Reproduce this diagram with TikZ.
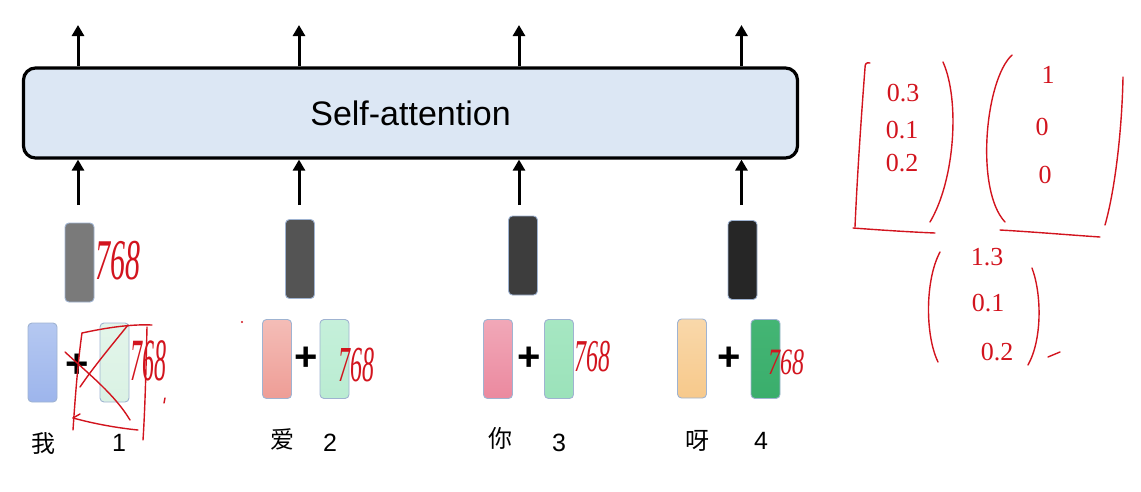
\documentclass[tikz,border=0pt]{standalone}
\usepackage{fontspec}
\setmainfont{Liberation Sans}
\newfontfamily\cjkfont{Noto Sans CJK SC}
\newfontfamily\handfont{Liberation Serif}
\usetikzlibrary{arrows.meta,positioning,calc}

\definecolor{attnfill}{HTML}{DCE7F4}
\definecolor{rim}{HTML}{9FB3D1}
\definecolor{inkred}{HTML}{D2141E}
% token / position colours (top, bottom)
\definecolor{wAt}{HTML}{B5C8F1}\definecolor{wAb}{HTML}{9DB5EC}
\definecolor{pAt}{HTML}{E3F5EA}\definecolor{pAb}{HTML}{DAF2E4}
\definecolor{wBt}{HTML}{F4BDB7}\definecolor{wBb}{HTML}{EE9D96}
\definecolor{pBt}{HTML}{C5F0DA}\definecolor{pBb}{HTML}{BAECD2}
\definecolor{wCt}{HTML}{F1A8B8}\definecolor{wCb}{HTML}{EB899F}
\definecolor{pCt}{HTML}{A6E7C2}\definecolor{pCb}{HTML}{9BE2BA}
\definecolor{wDt}{HTML}{F9D8AA}\definecolor{wDb}{HTML}{F7C98B}
\definecolor{pDt}{HTML}{44B574}\definecolor{pDb}{HTML}{3AAE6C}

% hand-written size note, stretched like the pen strokes
\newcommand{\pen}[3]{\scalebox{#1}[#2]{#3}}

\begin{document}
\begin{tikzpicture}[
  x=1pt, y=-1pt,
  attn/.style={draw, line width=3.2pt, rounded corners=12pt, fill=attnfill,
               minimum width=774pt, minimum height=90pt,
               font=\fontsize{34}{34}\selectfont},
  vec/.style={draw=rim, line width=0.9pt, rounded corners=4pt,
              minimum width=29pt, minimum height=79pt, inner sep=0pt},
  hid/.style={vec, fill=#1},
  tok/.style 2 args={vec, top color=#1, bottom color=#2},
  plus/.style={font=\fontsize{40}{40}\selectfont\bfseries, inner sep=0pt},
  word/.style={font=\cjkfont\fontsize{24}{24}\selectfont, inner sep=0pt},
  idx/.style={font=\fontsize{25}{25}\selectfont, inner sep=0pt},
  ink/.style={text=inkred, font=\handfont\itshape\fontsize{24}{24}\selectfont, inner sep=0pt},
  num/.style={text=inkred, font=\handfont\fontsize{26}{26}\selectfont, inner sep=0pt},
  stroke/.style={draw=inkred, line width=1.4pt, line cap=round, line join=round},
  flow/.style={-{Triangle[length=11pt,width=12pt]}, line width=3pt},
]
\useasboundingbox (0,0) rectangle (1141,491);

%% ---- self-attention block ------------------------------------------------
\node[attn] (attn) at (410.5,113) {Self-attention};

%% ---- hidden vectors (sum of the two below) --------------------------------
\node[hid=black!52] (g1) at (79.5,262.5) {};
\node[hid=black!67] (g2) at (300,259) {};
\node[hid=black!76] (g3) at (523,255.5) {};
\node[hid=black!85] (g4) at (742.5,260) {};

%% ---- token + position vectors ---------------------------------------------
\node[tok={wAt}{wAb}] (w1) at (42.5,362.5) {};
\node[tok={pAt}{pAb}] (p1) at (114.5,362.5) {};
\node[plus] (s1) at (77,366) {+};

\node[tok={wBt}{wBb}] (w2) at (277,359) {};
\node[tok={pBt}{pBb}] (p2) at (334.5,359) {};
\node[plus] (s2) at (306.5,359) {+};

\node[tok={wCt}{wCb}] (w3) at (498,359) {};
\node[tok={pCt}{pCb}] (p3) at (559,359) {};
\node[plus] (s3) at (529,359) {+};

\node[tok={wDt}{wDb}] (w4) at (692,358.5) {};
\node[tok={pDt}{pDb}] (p4) at (765.5,359) {};
\node[plus] (s4) at (729,359) {+};

%% ---- words and positions --------------------------------------------------
\node[word] (c1) at (43,444) {我};
\node[idx]  (n1) at (119,443) {1};
\node[word] (c2) at (282,439) {爱};
\node[idx]  (n2) at (330,443) {2};
\node[word] (c3) at (500,438) {你};
\node[idx]  (n3) at (559,443) {3};
\node[word] (c4) at (697,441) {呀};
\node[idx]  (n4) at (761,441) {4};

%% ---- arrows into and out of the block -------------------------------------
\coordinate (in1) at (78,205);
\coordinate (in2) at (299,205);
\coordinate (in3) at (519,205);
\coordinate (in4) at (741.5,205);
\coordinate (out1) at (78,25);
\coordinate (out2) at (299,25);
\coordinate (out3) at (519,25);
\coordinate (out4) at (741.5,25);

\draw[flow] (in1) -- (in1 |- attn.south);
\draw[flow] (in2) -- (in2 |- attn.south);
\draw[flow] (in3) -- (in3 |- attn.south);
\draw[flow] (in4) -- (in4 |- attn.south);
\draw[flow] (out1 |- attn.north) -- (out1);
\draw[flow] (out2 |- attn.north) -- (out2);
\draw[flow] (out3 |- attn.north) -- (out3);
\draw[flow] (out4 |- attn.north) -- (out4);

%% ---- hand notes: dimension ------------------------------------------------
\node[ink] (d0) at (118,261) {\pen{1.25}{2.4}{768}};
\node[ink] (d1) at (148,361) {\pen{1.0}{2.5}{768}};
\node[ink] (d2) at (356,365) {\pen{1.0}{2.1}{768}};
\node[ink] (d3) at (592,357) {\pen{1.0}{1.9}{768}};
\node[ink] (d4) at (786,362) {\pen{1.0}{1.55}{768}};

%% scribble over the first position vector
\draw[stroke] (82,333) .. controls (78,360) and (75,400) .. (73,430);
\draw[stroke] (82,333) .. controls (105,328) and (130,324) .. (152,325);
\draw[stroke] (147,327) .. controls (146,370) and (145,410) .. (143,440);
\draw[stroke] (65,352) .. controls (90,375) and (115,395) .. (130,420);
\draw[stroke] (80,387) .. controls (95,365) and (112,345) .. (128,325);
\draw[stroke] (73,418) .. controls (95,424) and (118,428) .. (138,430);
\draw[stroke] (73,418) -- (80,414);
\draw[stroke] (165,398) -- (164,403);
\fill[inkred] (242,322) circle (1.2pt);

%% ---- hand notes: vectors --------------------------------------------------
\node[num] (a1) at (903,93) {0.3};
\node[num] (a2) at (902,130) {0.1};
\node[num] (a3) at (902,163) {0.2};
\draw[stroke] (870,63) .. controls (866,62) and (865,64) .. (865,68)
  .. controls (861,120) and (857,180) .. (855,227);
\draw[stroke] (853,228) .. controls (880,230) and (910,232) .. (935,233);
\draw[stroke] (943,62) .. controls (960,100) and (955,180) .. (930,222);

\node[num] (b1) at (1048,75) {1};
\node[num] (b2) at (1042,127) {0};
\node[num] (b3) at (1045,175) {0};
\draw[stroke] (1012,55) .. controls (985,80) and (975,190) .. (1005,222);
\draw[stroke] (1123,77) .. controls (1122,130) and (1115,190) .. (1105,225);
\draw[stroke] (1000,230) .. controls (1035,232) and (1070,235) .. (1100,237);

\node[num] (c1v) at (987,257) {1.3};
\node[num] (c2v) at (988,303) {0.1};
\node[num] (c3v) at (997,352) {0.2};
\draw[stroke] (940,252) .. controls (925,280) and (925,335) .. (938,362);
\draw[stroke] (1032,268) .. controls (1042,295) and (1042,340) .. (1028,365);
\draw[stroke] (1048,357) -- (1060,352);

\end{tikzpicture}
\end{document}
